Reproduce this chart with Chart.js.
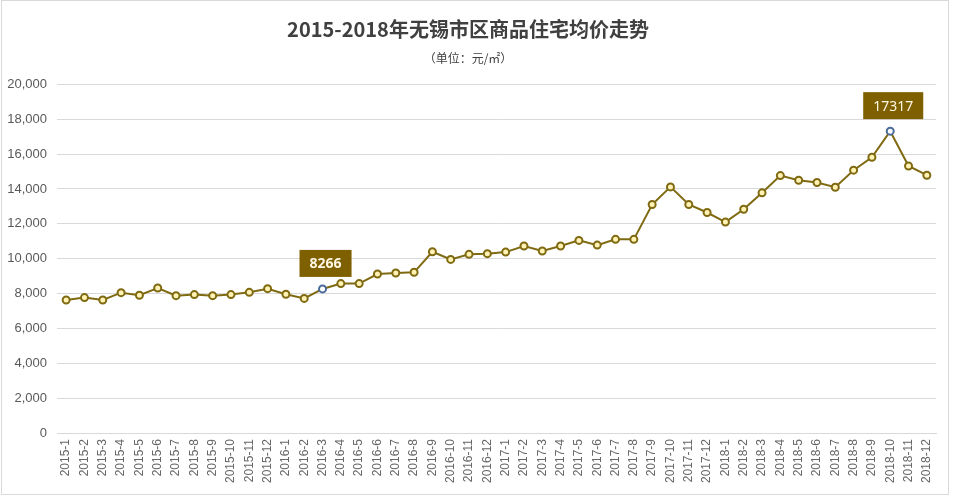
<!DOCTYPE html>
<html>
<head>
<meta charset="utf-8">
<script src="https://cdn.jsdelivr.net/npm/chart.js@4"></script>
<style>
  body { margin: 0; background: #fff; }
  #wrap { position: relative; width: 954px; height: 500px; }
  #frame { position: absolute; left: 1px; top: 0; width: 946px; height: 493px; border: 1px solid #d9d9d9; pointer-events: none; }
</style>
</head>
<body>
<div id="wrap">
  <canvas id="chart" width="954" height="500"></canvas>
  <div id="frame"></div>
</div>
<script>
// months 2015-1 .. 2018-12
const months = [];
[2015, 2016, 2017, 2018].forEach((y) => {
  for (let m = 1; m <= 12; m++) months.push(y + "-" + m);
});

// average price, yuan / m2
const prices2015 = [7630, 7770, 7630, 8050, 7900, 8320, 7880, 7940, 7880, 7940, 8070, 8280];
const prices2016 = [7960, 7720, 8266, 8570, 8570, 9120, 9180, 9220, 10400, 9960, 10250, 10290];
const prices2017 = [10380, 10730, 10440, 10730, 11050, 10780, 11110, 11110, 13110, 14120, 13110, 12650];
const prices2018 = [12100, 12840, 13780, 14770, 14500, 14370, 14100, 15080, 15820, 17317, 15320, 14790];
const prices = [...prices2015, ...prices2016, ...prices2017, ...prices2018];

// points with a value box
const highlightIdx = [14, 45];
const yTicks = [0, 2000, 4000, 6000, 8000, 10000, 12000, 14000, 16000, 18000, 20000];

const lineColor = "#7f6a12";
const boxColor = "#7f6000";

/* value boxes above highlighted points */
const valueBoxes = {
  id: "valueBoxes",
  afterDatasetsDraw(chart) {
    const ctx = chart.ctx;
    const meta = chart.getDatasetMeta(0);
    highlightIdx.forEach((i, n) => {
      const pt = meta.data[i];
      const text = String(prices[i]);
      ctx.save();
      ctx.font = (n === 0 ? "bold " : "") + "14px 'Noto Sans', 'Liberation Sans', sans-serif";
      const w = ctx.measureText(text).width + 20;
      const h = 27;
      const cx = pt.x + 3;
      const bottom = pt.y - 12;
      ctx.fillStyle = boxColor;
      ctx.fillRect(cx - w / 2, bottom - h, w, h);
      ctx.fillStyle = "#fdf6e3";
      ctx.textAlign = "center";
      ctx.textBaseline = "middle";
      ctx.fillText(text, cx, bottom - h / 2 + 1);
      ctx.restore();
    });
  },
};

new Chart(document.getElementById("chart"), {
  type: "line",
  data: {
    labels: months,
    datasets: [
      {
        data: prices,
        borderColor: lineColor,
        borderWidth: 2,
        backgroundColor: lineColor,
        tension: 0,
        pointRadius: 3.5,
        pointBorderWidth: 2,
        pointBackgroundColor: prices.map((_, i) => (highlightIdx.includes(i) ? "#ffffff" : "#fff2b3")),
        pointBorderColor: prices.map((_, i) => (highlightIdx.includes(i) ? "#4a6a9a" : lineColor)),
      },
    ],
  },
  options: {
    responsive: false,
    animation: false,
    layout: { padding: { left: 0, right: 18, top: 0, bottom: 0 } },
    plugins: {
      legend: { display: false },
      tooltip: { enabled: false },
      title: {
        display: true,
        text: "2015-2018年无锡市区商品住宅均价走势",
        color: "#404040",
        font: { size: 20, weight: "bold", family: "'Noto Sans CJK SC', sans-serif" },
        padding: { top: 17, bottom: 6 },
      },
      subtitle: {
        display: true,
        text: "（单位：元/㎡）",
        color: "#404040",
        font: { size: 12, family: "'Noto Sans CJK SC', sans-serif" },
        padding: { top: 4, bottom: 19 },
      },
    },
    scales: {
      x: {
        offset: true,
        grid: { display: false, drawTicks: false },
        border: { display: true, color: "#d9d9d9" },
        ticks: {
          color: "#666666",
          font: { size: 12, family: "'Liberation Sans', sans-serif" },
          minRotation: 90,
          maxRotation: 90,
          autoSkip: false,
          padding: 6,
        },
        afterFit(scale) {
          scale.height = 67;
        },
      },
      y: {
        min: 0,
        max: 20000,
        afterBuildTicks(scale) {
          scale.ticks = yTicks.map((v) => ({ value: v }));
        },
        grid: { color: "#d9d9d9", drawTicks: false },
        border: { display: false },
        ticks: {
          color: "#595959",
          font: { size: 13, family: "'Liberation Sans', sans-serif" },
          padding: 10,
        },
        afterFit(scale) {
          scale.width = 57;
        },
      },
    },
  },
  plugins: [valueBoxes],
});
</script>
</body>
</html>
